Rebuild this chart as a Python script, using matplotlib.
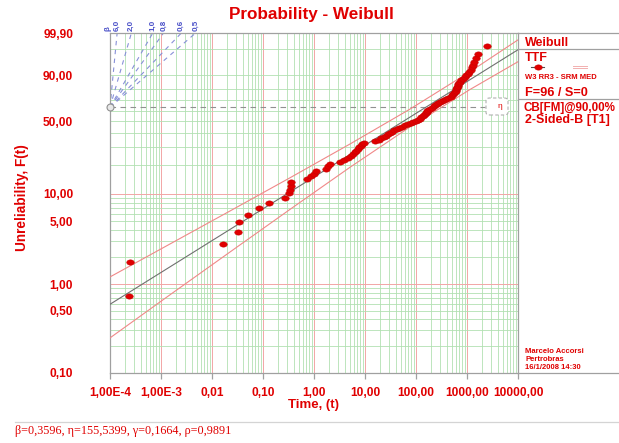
import numpy as np
import matplotlib
matplotlib.use('Agg')
import matplotlib.pyplot as plt
from matplotlib.path import Path
from matplotlib.lines import Line2D
from matplotlib.patches import FancyBboxPatch
from matplotlib.ticker import NullLocator

plt.rcParams['font.family'] = ['Liberation Sans', 'DejaVu Sans']
plt.rcParams['font.weight'] = 'bold'

# ---------------- data ----------------
beta, eta, gamma, rho = 0.3596, 155.5399, 0.1664, 0.9891

unrel_pct = [0.726, 1.763, 2.801, 3.838, 4.876, 5.913, 6.950, 7.988, 9.025, 10.062,
             11.100, 12.137, 13.174, 14.212, 15.249, 16.286, 17.324, 18.361, 19.398, 20.436,
             21.473, 22.510, 23.548, 24.585, 25.622, 26.660, 27.697, 28.734, 29.772, 30.809,
             31.846, 32.884, 33.921, 34.959, 35.996, 37.033, 38.071, 39.108, 40.145, 41.183,
             42.220, 43.257, 44.295, 45.332, 46.369, 47.407, 48.444, 49.481, 50.519, 51.556,
             52.593, 53.631, 54.668, 55.705, 56.743, 57.780, 58.817, 59.855, 60.892, 61.929,
             62.967, 64.004, 65.041, 66.079, 67.116, 68.154, 69.191, 70.228, 71.266, 72.303,
             73.340, 74.378, 75.415, 76.452, 77.490, 78.527, 79.564, 80.602, 81.639, 82.676,
             83.714, 84.751, 85.788, 86.826, 87.863, 88.900, 89.938, 90.975, 92.012, 93.050,
             94.087, 95.124, 96.162, 97.199, 98.237, 99.274]

times = [0.00024, 0.00025, 0.0166, 0.033, 0.034, 0.050, 0.083, 0.133, 0.266, 0.328,
         0.338, 0.350, 0.360, 0.74, 0.87, 1.0, 1.1, 1.7, 1.9, 2.1,
         3.24, 3.87, 4.64, 5.31, 5.82, 6.37, 6.81, 7.29, 7.80, 8.35,
         8.93, 9.55, 15.7, 18.4, 20.6, 23.1, 25.8, 28.3, 30.9, 33.8,
         37.8, 42.4, 47.4, 53.1, 60.8, 69.6, 79.7, 89.3, 100, 109,
         120, 128, 137, 143, 150, 157, 161, 164, 172, 188,
         206, 225, 241, 258, 276, 296, 324, 354, 387, 424,
         475, 508, 531, 556, 582, 595, 609, 623, 637, 652,
         667, 697, 729, 780, 835, 894, 956, 1023, 1095, 1172,
         1253, 1341, 1403, 1468, 1607, 2433]

upper_t = [1e-4, 0.00150, 0.02254, 0.3383, 5.08, 76.3, 1145, 10000]
upper_F = [1.202, 2.810, 6.506, 14.75, 31.92, 61.46, 91.98, 99.69]
lower_t = [1e-4, 0.00150, 0.02254, 0.3383, 5.08, 76.3, 1145, 10000]
lower_F = [0.2472, 0.7567, 2.287, 6.772, 18.92, 45.12, 79.56, 96.21]

xtick_vals = [1e-4, 1e-3, 1e-2, 1e-1, 1, 10, 100, 1000, 10000]
xtick_labels = ['1,00E-4', '1,00E-3', '0,01', '0,10', '1,00', '10,00', '100,00',
                '1000,00', '10000,00']
ytick_vals = [0.1, 0.5, 1, 5, 10, 50, 90, 99.9]
ytick_labels = ['0,10', '0,50', '1,00', '5,00', '10,00', '50,00', '90,00', '99,90']

grid_green_y = [0.2, 0.3, 0.4, 0.5, 0.6, 0.7, 0.8, 0.9, 2, 3, 4, 5, 6, 7, 8, 9,
                20, 30, 40, 50, 60, 70, 80, 90, 99]
grid_red_y = [1, 10]

beta_lines = [6.0, 2.0, 1.0, 0.8, 0.6, 0.5]
beta_labels = ['6,0', '2,0', '1,0', '0,8', '0,6', '0,5']

RED = '#e00000'
GRAY = '#a0a0a0'

# ---------------- figure ----------------
W, H = 619, 443
fig = plt.figure(figsize=(W / 100, H / 100), dpi=100)
fig.patch.set_facecolor('white')


def fx(x):
    return x / W


def fy(y):
    return 1 - y / H


def fwd(F):
    F = np.clip(np.asarray(F, dtype=float), 1e-9, 100 - 1e-9)
    return np.log(-np.log(1 - F / 100.0))


def inv(w):
    w = np.asarray(w, dtype=float)
    return 100.0 * (1 - np.exp(-np.exp(w)))


ax = fig.add_axes([fx(110), fy(372.7), fx(518) - fx(110), (372.7 - 33) / H])
ax.set_xscale('log')
ax.set_yscale('function', functions=(fwd, inv))
ax.set_xlim(1e-4, 1e4)
ax.set_ylim(0.1, 99.9)

# grid
GREEN = '#b2e0b2'
PINK = '#f2a6a6'
for d in range(-4, 4):
    base = 10.0 ** d
    for m in range(2, 10):
        ax.axvline(base * m, color=GREEN, lw=0.6, zorder=0)
    if d > -4:
        ax.axvline(base, color=PINK, lw=0.7, zorder=0)
for v in grid_green_y:
    ax.axhline(v, color=GREEN, lw=0.6, zorder=0)
for v in grid_red_y:
    ax.axhline(v, color=PINK, lw=0.7, zorder=0)

for s in ax.spines.values():
    s.set_color(GRAY)
    s.set_linewidth(0.9)

ax.set_xticks(xtick_vals, xtick_labels)
ax.xaxis.set_minor_locator(NullLocator())
ax.set_yticks(ytick_vals, ytick_labels)
ax.yaxis.set_minor_locator(NullLocator())
ax.tick_params(axis='x', length=4, color=GRAY, width=0.9, pad=6,
               labelsize=8.6, labelcolor=RED)
ax.tick_params(axis='y', length=0, pad=26.5, labelsize=8.6, labelcolor=RED)

# beta reference lines
w_top = float(fwd(99.9))
for b, lab in zip(beta_lines, beta_labels):
    t_top = 1e-4 * np.exp(w_top / b)
    ax.plot([1e-4, t_top], [63.21, 99.9], ls=(0, (4, 4)), color='#8890d8',
            lw=0.8, zorder=2)
    ax.annotate(lab, (t_top, 99.9), xytext=(0, 1.5), textcoords='offset points',
                rotation=90, ha='center', va='bottom', fontsize=5.8,
                color='#4a50c8', annotation_clip=False)
ax.annotate('β', (1e-4, 99.9), xytext=(-1.5, 1.5), textcoords='offset points',
            rotation=90, ha='center', va='bottom', fontsize=5.8,
            color='#4a50c8', annotation_clip=False)

# eta reference (63.2 %)
t_box = 10 ** (-4 + (485 - 110) / 51)
ax.plot([1e-4, t_box], [63.21, 63.21], ls=(0, (5, 4)), color='#909090', lw=0.8,
        zorder=2)
ax.plot([1e-4], [63.21], 'o', ms=5, mfc='#e8e8e8', mec='#909090', mew=0.8,
        clip_on=False, zorder=5)
fig.add_artist(FancyBboxPatch((fx(486), fy(115)), fx(22), 17 / H,
                              boxstyle='round,pad=0,rounding_size=0.006',
                              transform=fig.transFigure, fc='white',
                              ec='#b0b0b0', ls=(0, (3, 2)), lw=0.8))
fig.text(fx(500), fy(106.5), 'η', color=RED, fontsize=6, weight='normal',
         ha='center', va='center')

# fitted line
t_fit = np.logspace(-4, 4, 50)
F_fit = 100 * (1 - np.exp(-(t_fit / eta) ** beta))
ax.plot(t_fit, F_fit, color='#707070', lw=0.8, zorder=3)

# confidence bounds
ax.plot(upper_t, upper_F, color='#f08888', lw=0.8, zorder=3)
ax.plot(lower_t, lower_F, color='#f08888', lw=0.8, zorder=3)

# data points
th = np.linspace(0, 2 * np.pi, 41)
ell = Path(np.column_stack([np.cos(th), 0.7 * np.sin(th)]), closed=True)
ax.plot(times, unrel_pct, ls='none', marker=ell, ms=5.4, mfc='#e00000',
        mec='#c80000', mew=0.4, zorder=6)

# axis labels
fig.text(fx(314), fy(405), 'Time, (t)', color=RED, fontsize=9.5,
         ha='center', va='center')
fig.text(fx(22), fy(197.5), 'Unreliability, F(t)', color=RED, fontsize=9.8,
         ha='center', va='center', rotation=90)
fig.text(fx(311), fy(14), 'Probability - Weibull', color=RED, fontsize=12.3,
         ha='center', va='center')

# frame extensions & separators
for (x0, y0, x1, y1, c) in [(518, 33, 619, 33, GRAY), (518, 372.7, 619, 372.7, GRAY),
                            (518, 49, 619, 49, GRAY), (518, 98.5, 619, 98.5, GRAY),
                            (15, 421.7, 619, 421.7, '#d4d4d4')]:
    fig.add_artist(Line2D([fx(x0), fx(x1)], [fy(y0), fy(y1)], color=c, lw=0.9,
                          transform=fig.transFigure))

# legend area
fig.text(fx(525), fy(43.3), 'Weibull', color=RED, fontsize=9, va='center')
fig.text(fx(525), fy(58), 'TTF', color=RED, fontsize=9, va='center')
fig.add_artist(Line2D([fx(531), fx(544)], [fy(67.3), fy(67.3)], color='#505050',
                      lw=0.8, transform=fig.transFigure))
fig.add_artist(Line2D([fx(537.5)], [fy(67.3)], ls='none', marker=ell, ms=5.4,
                      mfc='#e00000', mec='#c80000', mew=0.4,
                      transform=fig.transFigure))
for yy in (65.8, 68.3):
    fig.add_artist(Line2D([fx(573), fx(587)], [fy(yy), fy(yy)], color='#f2b0b0',
                          lw=0.7, transform=fig.transFigure))
fig.text(fx(525), fy(77.5), 'W3 RR3 - SRM MED', color=RED, fontsize=5.5,
         va='center')
fig.text(fx(525), fy(92.7), 'F=96 / S=0', color=RED, fontsize=9.2, va='center')
fig.text(fx(524), fy(108.3), 'CB[FM]@90,00%', color=RED, fontsize=8.4,
         va='center')
fig.text(fx(525), fy(120), '2-Sided-B [T1]', color=RED, fontsize=9.0,
         va='center')

fig.text(fx(525), fy(351.7), 'Marcelo Accorsi', color=RED, fontsize=5.5, va='center')
fig.text(fx(525), fy(359.8), 'Pertrobras', color=RED, fontsize=5.5, va='center')
fig.text(fx(525), fy(367.7), '16/1/2008 14:30', color=RED, fontsize=5.5, va='center')

def fmt(v, n):
    return f'{v:.{n}f}'.replace('.', ',')

fig.text(fx(15), fy(430.7),
         f'β={fmt(beta, 4)}, η={fmt(eta, 4)}, γ={fmt(gamma, 4)}, ρ={fmt(rho, 4)}',
         color=RED, fontsize=8.7, family=['Liberation Serif', 'DejaVu Serif'],
         weight='normal', va='center')

fig.savefig('out.png', dpi=100, facecolor='white')
